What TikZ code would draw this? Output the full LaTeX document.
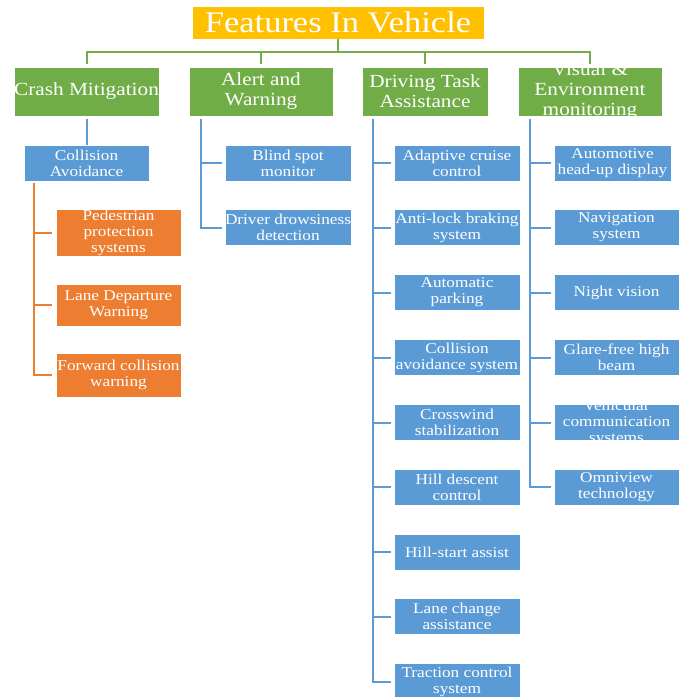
\documentclass[tikz,border=0pt]{standalone}
\usepackage{fontspec}
\setmainfont[FakeStretch=1.15]{Liberation Serif}
\definecolor{gold}{HTML}{FFC000}
\definecolor{leaf}{HTML}{70AD47}
\definecolor{sky}{HTML}{5B9BD5}
\definecolor{tang}{HTML}{ED7D31}
\tikzset{
  basebox/.style={rectangle, draw=white, line width=0.6pt, inner sep=0pt,
    text=white, align=center},
  titlebox/.style={basebox, fill=gold, font=\fontsize{30}{32}\selectfont},
  catbox/.style={basebox, fill=leaf, minimum height=49pt,
    font=\fontsize{18.5}{20}\selectfont},
  itemfont/.style={font=\fontsize{15}{16}\selectfont},
  itembox/.style={basebox, fill=sky, minimum height=36pt, itemfont},
  subbox/.style={basebox, fill=tang, minimum width=125pt, itemfont},
  gline/.style={draw=leaf, line width=2pt},
  bline/.style={draw=sky, line width=2pt},
  oline/.style={draw=tang, line width=2pt},
}
\begin{document}
\begin{tikzpicture}[x=1pt, y=-1pt]
\clip (0,0) rectangle (683,697);
\fill[white] (0,0) rectangle (683,697);

% root
\node[titlebox, minimum width=292pt, minimum height=33pt] (root) at (338,22.5) {Features In Vehicle};

% categories
\node[catbox, minimum width=145pt] (crash) at (86.5,91.5) {Crash Mitigation};
\node[catbox, minimum width=144pt] (alert) at (261,91.5) {Alert and\\Warning};
\node[catbox, minimum width=126pt] (drive) at (425,91.5) {Driving Task\\Assistance};
\node[catbox, minimum width=144pt] (visual) at (590,91.5) {};
\begin{scope}
  \clip (visual.south west) rectangle (visual.north east);
  \node[font=\fontsize{18.5}{20}\selectfont, text=white, align=center, inner sep=0pt]
    at (visual.center) {Visual \&\\Environment\\monitoring};
\end{scope}

% root to categories
\foreach \c in {crash, alert, drive, visual}
  \draw[gline] (root.south) -- ++(0,13) -| ([yshift=3pt]\c.north);

% crash mitigation branch
\node[itembox, minimum width=125pt] (ca) at (86.5,163) {Collision\\Avoidance};
\draw[bline] ([yshift=-3pt]crash.south) -- (ca.north);
\node[subbox, minimum height=47pt] (o1) at (118.5,232.5) {Pedestrian\\protection\\systems};
\node[subbox, minimum height=42pt] (o2) at (118.5,305) {Lane Departure\\Warning};
\node[subbox, minimum height=44pt] (o3) at (118.5,375) {Forward collision\\warning};
\coordinate (caTrunk) at (34,183);
\foreach \o in {o1, o2, o3}
  \draw[oline] (caTrunk) |- ([xshift=-4pt]\o.west);

% alert branch
\node[itembox, minimum width=126pt] (a1) at (288,163) {Blind spot\\monitor};
\node[itembox, minimum width=126pt] (a2) at (288,227.5) {Driver drowsiness\\detection};
\coordinate (alertTrunk) at (201,119);
\foreach \a in {a1, a2}
  \draw[bline] (alertTrunk) |- ([xshift=-3pt]\a.west);

% driving task branch
\node[itembox, minimum width=126pt] (d1) at (457,163) {Adaptive cruise\\control};
\node[itembox, minimum width=126pt] (d2) at (457,227.5) {Anti-lock braking\\system};
\node[itembox, minimum width=126pt] (d3) at (457,292.5) {Automatic\\parking};
\node[itembox, minimum width=126pt] (d4) at (457,357.5) {Collision\\avoidance system};
\node[itembox, minimum width=126pt] (d5) at (457,422.5) {Crosswind\\stabilization};
\node[itembox, minimum width=126pt] (d6) at (457,487) {Hill descent\\control};
\node[itembox, minimum width=126pt] (d7) at (457,552) {Hill-start assist};
\node[itembox, minimum width=126pt] (d8) at (457,616.5) {Lane change\\assistance};
\node[itembox, minimum width=126pt] (d9) at (457,681.5) {Traction control\\system};
\coordinate (driveTrunk) at (373,119);
\foreach \d in {d1, d2, d3, d4, d5, d6, d7, d8, d9}
  \draw[bline] (driveTrunk) |- ([xshift=-3pt]\d.west);

% visual & environment branch
\node[itembox, minimum width=117pt] (v1) at (612.5,163) {Automotive\\head-up display};
\node[itembox, minimum width=125pt] (v2) at (616.5,227.5) {Navigation\\system};
\node[itembox, minimum width=125pt] (v3) at (616.5,292.5) {Night vision};
\node[itembox, minimum width=125pt] (v4) at (616.5,357.5) {Glare-free high\\beam};
\node[itembox, minimum width=125pt] (v5) at (616.5,422.5) {};
\begin{scope}
  \clip (v5.south west) rectangle (v5.north east);
  \node[itemfont, text=white, align=center, inner sep=0pt]
    at (v5.center) {Vehicular\\communication\\systems};
\end{scope}
\node[itembox, minimum width=125pt] (v6) at (616.5,487) {Omniview\\technology};
\coordinate (visualTrunk) at (530,119);
\foreach \v in {v1, v2, v3, v4, v5, v6}
  \draw[bline] (visualTrunk) |- ([xshift=-3pt]\v.west);
\end{tikzpicture}
\end{document}
